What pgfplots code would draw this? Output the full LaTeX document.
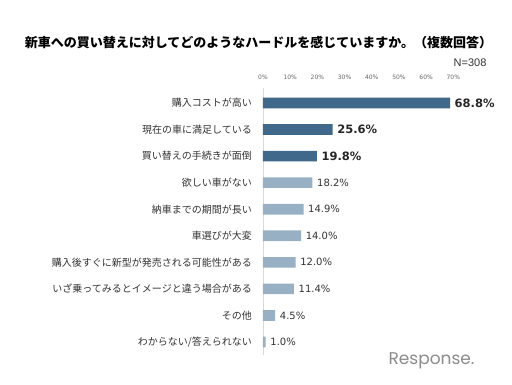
\documentclass[border=0pt]{standalone}
\usepackage{fontspec}
\usepackage{pgfplots}
\pgfplotsset{compat=1.18}
\setmainfont{DejaVu Sans}
\newfontfamily\cjk{Noto Sans CJK JP}
\newfontfamily\lib{Liberation Sans}
\newfontfamily\logo{Poppins}
\definecolor{darkbar}{RGB}{64,104,138}
\definecolor{lightbar}{RGB}{152,176,196}
\definecolor{txt}{RGB}{51,51,51}
\begin{document}
\begin{tikzpicture}
\path[use as bounding box, fill=white] (0pt,0pt) rectangle (512pt,384pt);
\node[font=\cjk\bfseries\fontsize{13}{13}\selectfont, text=black] at (258.5pt,341pt) {新車への買い替えに対してどのようなハードルを感じていますか。（複数回答）};
\node[font=\lib\fontsize{11}{11}\selectfont, text=txt, anchor=east] at (490pt,321pt) {N=308};
\begin{axis}[
  at={(263pt,294.3pt)}, anchor=north west,
  scale only axis, width=190.3pt, height=265.6pt,
  xmin=0, xmax=70, ymin=-0.5, ymax=9.5, y dir=reverse,
  /pgf/number format/assume math mode=true,
  axis line style={draw=none},
  major tick length=0pt,
  xtick={0,10,...,70},
  xticklabel pos=right,
  xticklabel={\pgfmathprintnumber{\tick}\%},
  xticklabel style={font=\fontsize{6}{6}\selectfont, text=black!60, inner sep=0pt, anchor=south},
  xticklabel shift=10pt,
  ytick={0,...,9},
  yticklabels={購入コストが高い,現在の車に満足している,買い替えの手続きが面倒,欲しい車がない,納車までの期間が長い,車選びが大変,購入後すぐに新型が発売される可能性がある,いざ乗ってみるとイメージと違う場合がある,その他,わからない/答えられない},
  yticklabel style={font=\cjk\fontsize{10}{10}\selectfont, text=txt, inner sep=0pt, anchor=east},
  yticklabel shift=11pt,
  xbar, bar width=10.6pt, bar shift=0pt,
  point meta=x,
  nodes near coords={\pgfmathprintnumber[fixed,fixed zerofill,precision=1,assume math mode=true]{\pgfplotspointmeta}\%},
  clip=false,
]
\draw[black!15] (axis cs:0,-0.55) -- (axis cs:0,9.5);
\addplot[fill=darkbar, draw=none, nodes near coords style={font=\bfseries\fontsize{11.5}{11.5}\selectfont, text=black!85, anchor=west, inner sep=0pt, xshift=4.5pt}] coordinates {(68.8,0) (25.6,1) (19.8,2)};
\addplot[fill=lightbar, draw=none, nodes near coords style={font=\fontsize{10}{10}\selectfont, text=txt, anchor=west, inner sep=0pt, xshift=4.5pt}] coordinates {(18.2,3) (14.9,4) (14.0,5) (12.0,6) (11.4,7) (4.5,8) (1.0,9)};
\end{axis}
\node[font=\logo\fontsize{17}{17}\selectfont, text=black!45, anchor=west] at (385pt,23pt) {Response.};
\end{tikzpicture}
\end{document}
